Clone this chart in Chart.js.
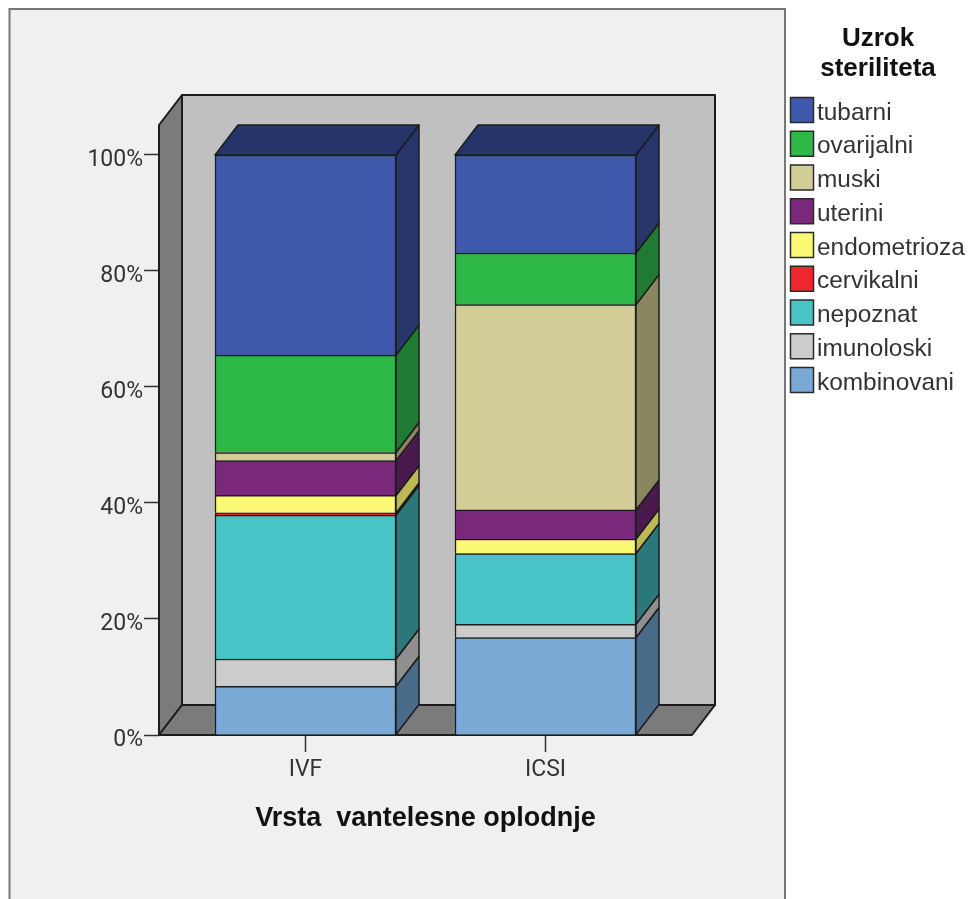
<!DOCTYPE html>
<html>
<head>
<meta charset="utf-8">
<title>Uzrok steriliteta</title>
<script src="https://cdn.jsdelivr.net/npm/chart.js@4"></script>
<style>
html,body{margin:0;padding:0;background:#fff;}
#wrap{width:968px;height:899px;position:relative;}
canvas{display:block;}
</style>
</head>
<body>
<div id="wrap"><canvas id="c" width="968" height="899"></canvas></div>
<script>
const categories = ['IVF', 'ICSI'];
const yTicks = [0, 20, 40, 60, 80, 100];
const legendTitle = ['Uzrok', 'steriliteta'];
const xTitle = 'Vrsta  vantelesne oplodnje';
const seriesNames = ['tubarni', 'ovarijalni', 'muski', 'uterini', 'endometrioza', 'cervikalni', 'nepoznat', 'imunoloski', 'kombinovani'];
const tubarni = [34.5, 16.9];
const ovarijalni = [16.8, 8.9];
const muski = [1.4, 35.4];
const uterini = [6.0, 5.0];
const endometrioza = [3.0, 2.5];
const cervikalni = [0.4, 0];
const nepoznat = [24.8, 12.2];
const imunoloski = [4.7, 2.3];
const kombinovani = [8.4, 16.8];
const seriesValues = [tubarni, ovarijalni, muski, uterini, endometrioza, cervikalni, nepoznat, imunoloski, kombinovani];
const faceColors = ['#3e58ac', '#2eb848', '#d3ce97', '#7a287b', '#fbf873', '#f0282d', '#48c3c6', '#cccccc', '#7ba9d6'];
const sideColors = ['#27356b', '#1f7a33', '#8a8662', '#4a1a4e', '#bdb955', '#8c1a1e', '#2b7779', '#8f8f8f', '#4a6a8a'];
const topColor = '#25346a';

const depthX = 23, depthY = 30;
const lineColor = '#1c1c1c';
const textColor = '#333333';

function poly(ctx, pts, fill, stroke, lw) {
  ctx.beginPath();
  pts.forEach((p, i) => i ? ctx.lineTo(p[0], p[1]) : ctx.moveTo(p[0], p[1]));
  ctx.closePath();
  ctx.fillStyle = fill;
  ctx.fill();
  ctx.lineWidth = lw;
  ctx.strokeStyle = stroke;
  ctx.lineJoin = 'round';
  ctx.stroke();
}

const frame3d = {
  id: 'frame3d',
  beforeDraw(chart) {
    const { ctx } = chart;
    const yScale = chart.scales.y;
    yScale.getLabelItems();
    if (!yScale._shifted) {
      yScale._labelItems.forEach((item) => { item.textOffset += 5; });
      yScale._shifted = true;
    }
    ctx.save();
    ctx.fillStyle = '#ffffff';
    ctx.fillRect(0, 0, chart.width, chart.height);
    ctx.fillStyle = '#f0f0f0';
    ctx.fillRect(9.5, 9, 775.5, 900);
    ctx.strokeStyle = '#777777';
    ctx.lineWidth = 2;
    ctx.strokeRect(9.5, 9, 775.5, 900);
    ctx.restore();
  },
  beforeDatasetsDraw(chart) {
    const { ctx, chartArea: a } = chart;
    ctx.save();
    poly(ctx, [[a.left + depthX, a.top - depthY], [a.right + depthX, a.top - depthY], [a.right + depthX, a.bottom - depthY], [a.left + depthX, a.bottom - depthY]], '#c0c0c0', lineColor, 2);
    poly(ctx, [[a.left, a.top], [a.left + depthX, a.top - depthY], [a.left + depthX, a.bottom - depthY], [a.left, a.bottom]], '#7b7b7b', lineColor, 2);
    poly(ctx, [[a.left, a.bottom], [a.right, a.bottom], [a.right + depthX, a.bottom - depthY], [a.left + depthX, a.bottom - depthY]], '#7b7b7b', lineColor, 2);
    ctx.restore();
  },
  afterDatasetsDraw(chart) {
    const ctx = chart.ctx;
    ctx.save();
    const count = chart.data.datasets.length;
    for (let d = 0; d < count; d++) {
      const meta = chart.getDatasetMeta(d);
      const side = sideColors[count - 1 - d];
      meta.data.forEach((bar) => {
        const { x, y, base, width } = bar.getProps(['x', 'y', 'base', 'width'], true);
        const r = x + width / 2, l = x - width / 2;
        if (Math.abs(base - y) > 0.01) {
          poly(ctx, [[r, y], [r + depthX, y - depthY], [r + depthX, base - depthY], [r, base]], side, lineColor, 1.5);
        }
        if (d === count - 1) {
          poly(ctx, [[l, y], [l + depthX, y - depthY], [r + depthX, y - depthY], [r, y]], topColor, lineColor, 1.5);
        }
      });
    }
    ctx.restore();
  }
};

const sideLegend = {
  id: 'sideLegend',
  afterDraw(chart) {
    const ctx = chart.ctx;
    ctx.save();
    ctx.textBaseline = 'middle';
    ctx.textAlign = 'center';
    ctx.fillStyle = '#111111';
    ctx.font = 'bold 26px "Liberation Sans", sans-serif';
    legendTitle.forEach((t, i) => ctx.fillText(t, 878, 39 + i * 30));
    ctx.textAlign = 'left';
    ctx.font = '24.4px "Liberation Sans", sans-serif';
    seriesNames.forEach((name, i) => {
      const cy = 110 + i * 33.75;
      ctx.fillStyle = faceColors[i];
      ctx.fillRect(790.5, cy - 12.5, 23, 25);
      ctx.lineWidth = 1.5;
      ctx.strokeStyle = '#2a2a2a';
      ctx.strokeRect(790.5, cy - 12.5, 23, 25);
      ctx.fillStyle = textColor;
      ctx.fillText(name, 817, cy + 3);
    });
    ctx.restore();
  }
};

const datasets = seriesNames.map((name, i) => ({
  label: name,
  data: seriesValues[i].map((v, k) => ({ x: k, y: v })),
  backgroundColor: faceColors[i],
  borderColor: lineColor,
  borderWidth: 1.5,
  barThickness: 181
})).reverse();

new Chart(document.getElementById('c'), {
  type: 'bar',
  data: { labels: categories, datasets },
  plugins: [frame3d, sideLegend],
  options: {
    responsive: false,
    animation: false,
    devicePixelRatio: 1,
    layout: { padding: { left: 0, top: 125, right: 276, bottom: 0 } },
    plugins: { legend: { display: false }, tooltip: { enabled: false } },
    scales: {
      x: {
        type: 'linear',
        offset: false,
        stacked: true,
        min: -0.6104,
        max: 1.6104,
        afterBuildTicks(s) { s.ticks = categories.map((_, i) => ({ value: i })); },
        afterFit(s) { s.height = 164; },
        grid: { offset: false, drawOnChartArea: false, drawTicks: true, tickLength: 17, tickColor: '#333333', tickWidth: 1.5 },
        border: { display: false },
        ticks: {
          autoSkip: false,
          maxRotation: 0,
          padding: 4,
          color: textColor,
          font: { family: 'Roboto, "Liberation Sans", sans-serif', size: 23 },
          callback: (v) => categories[v]
        },
        title: {
          display: true,
          text: xTitle,
          color: '#111111',
          font: { family: '"Liberation Sans", sans-serif', size: 27, weight: 'bold' },
          padding: { top: 0, bottom: 64 }
        }
      },
      y: {
        type: 'linear',
        stacked: true,
        min: 0,
        max: 105.17,
        afterBuildTicks(s) { s.ticks = yTicks.map((value) => ({ value })); },
        afterFit(s) { s.width = 159; },
        grid: { drawOnChartArea: false, drawTicks: true, tickLength: 15, tickColor: '#333333', tickWidth: 1.5 },
        border: { display: false },
        ticks: {
          padding: 1,
          color: textColor,
          font: { family: 'Roboto, "Liberation Sans", sans-serif', size: 23 },
          callback: (v) => v + '%'
        }
      }
    }
  }
});
</script>
</body>
</html>
